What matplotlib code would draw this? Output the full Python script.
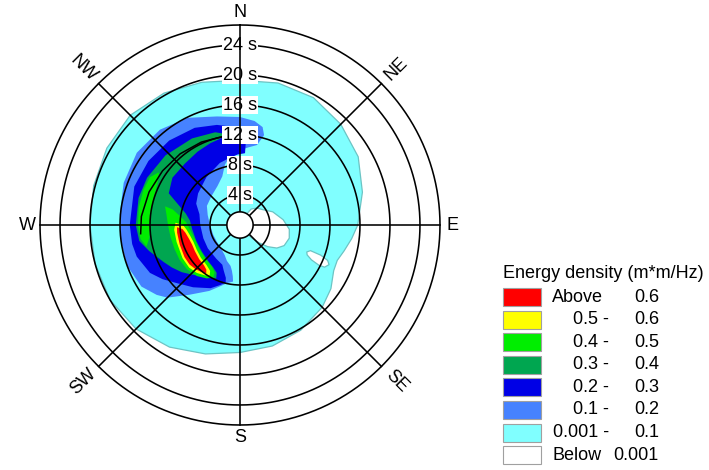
import numpy as np
import matplotlib
matplotlib.use("Agg")
import matplotlib.pyplot as plt
from matplotlib.patches import Rectangle

plt.rcParams["font.family"] = ["Liberation Sans", "DejaVu Sans"]

# ---------------------------------------------------------------
# Directional wave spectrum: contour regions in (direction, period)
# direction in compass degrees (clockwise from N), period in seconds
# ---------------------------------------------------------------
period_max = 26.67
ring_periods = [4, 8, 12, 16, 20, 24]
compass_dirs = [0, 45, 90, 135, 180, 225, 270, 315]
compass_names = ["N", "NE", "E", "SE", "S", "SW", "W", "NW"]
center_period = 1.75

# level 0.001: outer envelope
env_dir = [0, 15, 30, 45, 60, 75, 90, 97, 104, 110, 116, 125, 135, 150, 165, 180,
           195, 210, 225, 240, 255, 270, 285, 300, 315, 330, 345, 360]
env_per = [19.3, 19.6, 19.6, 19.0, 18.2, 16.9, 15.7, 15.0, 14.3, 13.8, 13.9, 14.8,
           15.5, 16.2, 16.7, 17.0, 17.8, 18.8, 19.6, 20.0, 20.0, 20.0, 20.2, 20.5,
           20.7, 20.3, 19.7, 19.3]
# areas below 0.001 inside the envelope
gap_dir = [22, 35, 45, 55, 68, 83, 95, 105, 115, 122, 128, 133, 138, 142]
gap_per = [1.0, 2.6, 3.2, 3.6, 4.7, 5.8, 6.6, 6.8, 6.5, 5.8, 4.7, 3.5, 2.3, 1.0]
isle_dir = [110, 110.5, 112, 114, 116.5, 117, 116, 114, 112]
isle_per = [10.0, 11.5, 12.6, 13.0, 12.6, 11.8, 10.6, 9.8, 9.6]

# level 0.1
mb_dir = [15, 13, 8, 0, 348, 334, 320, 305, 290, 275, 262, 250, 238, 230, 225, 216,
          205, 198, 192, 187, 188, 190, 193, 200, 207, 220, 235, 250, 270, 287,
          300, 315, 330, 340, 346, 352, 0, 6, 12]
mb_per = [12.4, 13.4, 14.0, 14.4, 14.8, 15.9, 16.6, 16.8, 16.5, 16.1, 16.0, 16.0,
          15.5, 14.5, 13.7, 11.5, 9.7, 8.6, 7.9, 7.6, 6.9, 6.2, 5.6, 5.1, 4.5, 4.0,
          3.8, 3.8, 4.0, 4.5, 5.1, 5.4, 6.0, 6.9, 8.3, 9.3, 10.0, 10.4, 10.9]

# level 0.2
db_dir = [4, 0, 347, 335, 320, 305, 290, 270, 260, 253, 242, 235, 227, 217, 205, 198,
          194, 195, 200, 204, 215, 234, 250, 270, 285, 296, 307, 325, 342, 350, 358, 4]
db_per = [12.7, 13.0, 13.7, 14.3, 14.7, 14.9, 15.0, 14.7, 14.6, 14.4, 13.6, 12.6,
          11.4, 10.4, 9.3, 8.4, 7.9, 7.3, 6.4, 5.8, 5.5, 5.3, 5.2, 5.3, 5.6, 6.5,
          7.0, 7.8, 8.7, 9.0, 9.4, 9.6]

# level 0.3
dg_dir = [351, 345, 331, 313, 297, 285, 270, 261, 254, 250, 244, 238, 231, 224, 216,
          208, 204, 206, 212, 222, 235, 250, 265, 275, 282, 288, 294, 305, 318, 330,
          340, 347]
dg_per = [12.3, 12.8, 13.2, 13.6, 13.9, 14.0, 13.9, 13.6, 12.6, 12.0, 11.3, 10.7,
          10.0, 9.2, 8.5, 8.0, 7.8, 7.1, 6.7, 6.4, 6.2, 6.2, 6.4, 6.7, 7.4, 8.6,
          10.4, 11.0, 11.0, 11.3, 11.6, 11.8]

# level 0.4 (two separate patches)
bg1_dir = [303, 298, 290, 280, 270, 262, 257, 262, 270, 280, 290, 298]
bg1_per = [12.9, 13.6, 13.7, 13.7, 13.6, 13.4, 12.8, 12.2, 12.0, 12.0, 12.1, 12.4]
bg2_dir = [284, 278, 270, 260, 250, 240, 230, 220, 212, 207, 208, 214, 225, 240,
           255, 265, 273, 279, 283]
bg2_per = [10.3, 9.9, 9.6, 9.4, 9.3, 9.3, 9.2, 8.9, 8.4, 7.9, 7.2, 6.7, 6.45, 6.3,
           6.35, 6.7, 7.2, 8.2, 9.2]

# level 0.5
yl_dir = [272, 266, 255, 240, 230, 222, 215, 211, 213, 220, 230, 240, 250, 258, 265,
          270]
yl_per = [8.6, 8.8, 8.75, 8.85, 8.85, 8.6, 8.2, 7.85, 7.3, 6.95, 6.8, 6.65, 6.6,
          6.8, 7.15, 7.6]

# level 0.6
rd_dir = [268, 263, 252, 240, 232, 225, 219, 215, 217, 222, 230, 240, 248, 255, 262,
          266]
rd_per = [8.4, 8.45, 8.45, 8.55, 8.55, 8.35, 8.1, 7.85, 7.45, 7.2, 7.1, 6.95, 6.9,
          7.05, 7.35, 7.7]

# black guide line running along the north-west swell band
ridge_dir = [348, 335, 320, 305, 290, 275, 265]
ridge_per = [12.0, 12.2, 12.4, 12.6, 12.9, 13.2, 13.3]

# legend
legend_colors = ["#ff0000", "#ffff00", "#00ee00", "#00a650", "#0000e6", "#4682ff",
                 "#80ffff", "#ffffff"]
legend_low = ["Above", "0.5 -", "0.4 -", "0.3 -", "0.2 -", "0.1 -", "0.001 -", "Below"]
legend_high = ["0.6", "0.6", "0.5", "0.4", "0.3", "0.2", "0.1", "0.001"]
legend_title = "Energy density (m*m/Hz)"

# ---------------------------------------------------------------
W, H = 709, 470
fig = plt.figure(figsize=(W / 100, H / 100), dpi=100)
cx, cy, R = 240, 225, 200
ax = fig.add_axes([(cx - R) / W, 1 - (cy + R) / H, 2 * R / W, 2 * R / H],
                  projection="polar")
ax.set_theta_zero_location("N")
ax.set_theta_direction(-1)
ax.set_ylim(0, period_max)
ax.axis("off")

FS = 13
edge_c = "#6cc4c4"


def region(dirs, pers, color, z, edge="none", lw=0.0):
    th = np.unwrap(np.radians(dirs))
    ax.fill(th, pers, facecolor=color, edgecolor=edge, lw=lw, zorder=z)


region(env_dir, env_per, legend_colors[6], 1, edge=edge_c, lw=0.9)
region(gap_dir, gap_per, "white", 1.5, edge=edge_c, lw=0.9)
region(isle_dir, isle_per, "white", 1.5, edge=edge_c, lw=0.9)
region(mb_dir, mb_per, legend_colors[5], 2)
region(db_dir, db_per, legend_colors[4], 2.1)
region(dg_dir, dg_per, legend_colors[3], 2.2)
region(bg1_dir, bg1_per, legend_colors[2], 2.3)
region(bg2_dir, bg2_per, legend_colors[2], 2.3)
region(yl_dir, yl_per, legend_colors[1], 2.4)
region(rd_dir, rd_per, legend_colors[0], 2.5)

ax.plot(np.radians(ridge_dir), ridge_per, color="black", lw=1.1, zorder=4.5)

# period rings
full = np.linspace(0, 2 * np.pi, 721)
for p in ring_periods + [period_max]:
    ax.plot(full, np.full_like(full, p), color="black", lw=1.15, zorder=5,
            clip_on=False)

for p in ring_periods:
    ax.text(0, p, f"{p} s", ha="center", va="center", fontsize=FS, zorder=6,
            bbox=dict(facecolor="white", edgecolor="none", pad=0.6))

# direction spokes
for d in compass_dirs:
    a = np.radians(d)
    ax.plot([a, a], [0, period_max], color="black", lw=1.15, zorder=7, clip_on=False)

ax.fill(full, np.full_like(full, center_period), facecolor="white",
        edgecolor="black", lw=1.15, zorder=8)

for d, name in zip(compass_dirs, compass_names):
    diag = d % 90 != 0
    rot = 0
    if diag:
        rot = 45 if d in (45, 225) else -45
    rpos = 29.5 if diag else 28.3
    ax.text(np.radians(d), rpos, name, ha="center", va="center", fontsize=FS,
            rotation=rot, rotation_mode="anchor", clip_on=False)

# legend drawn in pixel units


def fx(x):
    return x / W


def fy(y):
    return 1 - y / H


fig.text(fx(503), fy(273), legend_title, ha="left", va="center", fontsize=FS)
row0, step, ph = 288, 22.6, 18
for i, (c, lo, hi) in enumerate(zip(legend_colors, legend_low, legend_high)):
    top = row0 + i * step
    fig.add_artist(Rectangle((fx(503), fy(top + ph)), 38 / W, ph / H,
                             transform=fig.transFigure, facecolor=c,
                             edgecolor="#a0a0a0", lw=0.8))
    yc = fy(top + ph / 2)
    if lo in ("Above", "Below"):
        fig.text(fx(552), yc, lo, ha="left", va="center", fontsize=FS)
    else:
        fig.text(fx(609), yc, lo, ha="right", va="center", fontsize=FS)
    fig.text(fx(659), yc, hi, ha="right", va="center", fontsize=FS)

fig.savefig("out.png", dpi=100)
